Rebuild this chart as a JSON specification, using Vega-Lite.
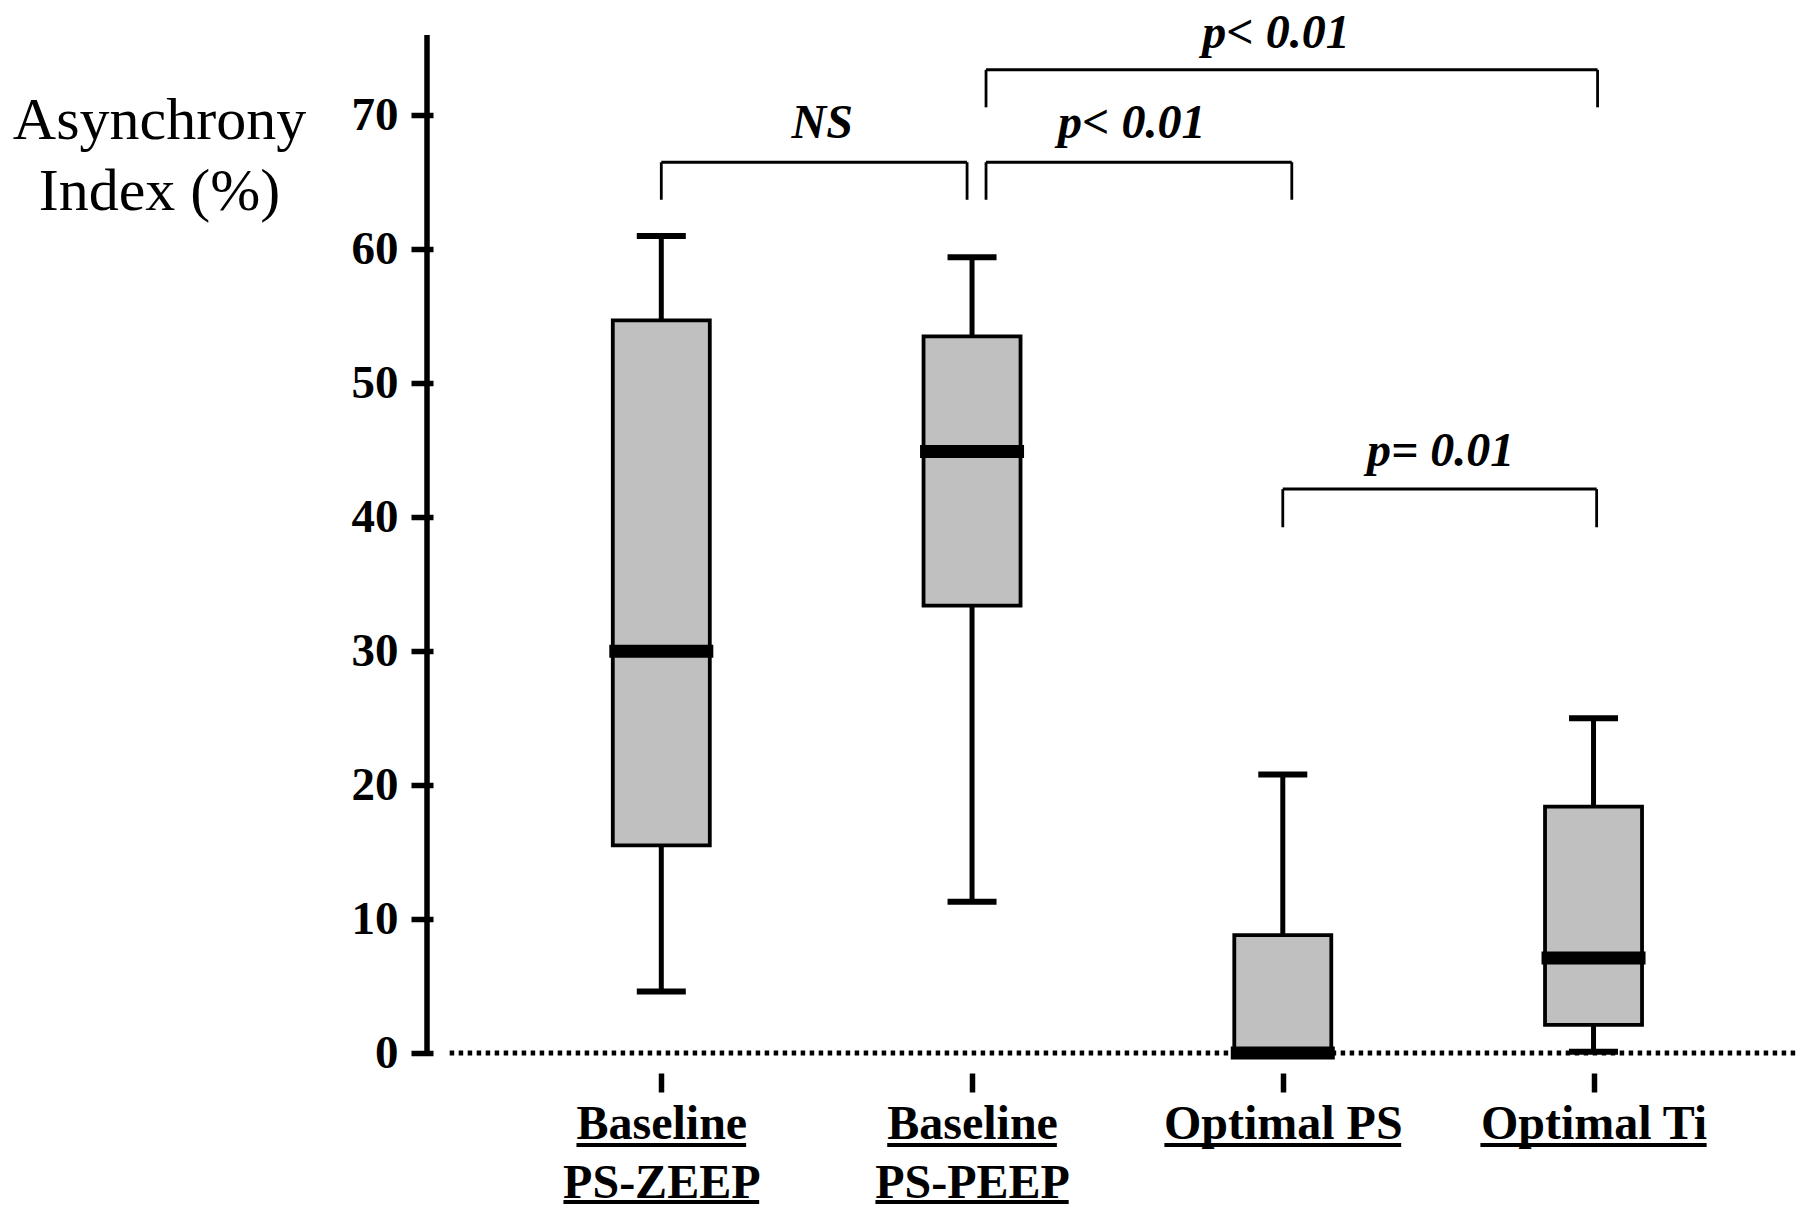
{
  "$schema": "https://vega.github.io/schema/vega-lite/v6.json",
  "width": 1381,
  "height": 1018,
  "autosize": {"type": "none"},
  "padding": {"left": 422, "top": 35, "right": 0, "bottom": 154},
  "background": "white",
  "config": {
    "view": {"stroke": null},
    "font": "Liberation Serif",
    "axis": {"labelColor": "black", "tickColor": "black", "titleColor": "black", "grid": false}
  },
  "datasets": {
    "boxes": [
      {"group": "Baseline PS-ZEEP", "pos": 1, "lower": 4.6, "q1": 15.5, "median": 30.0, "q3": 54.7, "upper": 61.0},
      {"group": "Baseline PS-PEEP", "pos": 2, "lower": 11.3, "q1": 33.4, "median": 44.9, "q3": 53.5, "upper": 59.4},
      {"group": "Optimal PS", "pos": 3, "lower": 0, "q1": 0, "median": 0, "q3": 8.8, "upper": 20.8},
      {"group": "Optimal Ti", "pos": 4, "lower": 0.1, "q1": 2.1, "median": 7.1, "q3": 18.4, "upper": 25.0}
    ],
    "brackets": [
      {"label": "NS", "x1": 1.0, "x2": 1.984, "ytop": 66.5, "ybot": 63.7, "tx": 1.518, "ty": 68.3},
      {"label": "p< 0.01", "x1": 2.045, "x2": 3.029, "ytop": 66.5, "ybot": 63.7, "tx": 2.514, "ty": 68.3},
      {"label": "p< 0.01", "x1": 2.045, "x2": 4.013, "ytop": 73.4, "ybot": 70.6, "tx": 2.978, "ty": 75.0},
      {"label": "p= 0.01", "x1": 3.0, "x2": 4.01, "ytop": 42.1, "ybot": 39.25, "tx": 3.508, "ty": 43.8}
    ],
    "underlines": [
      {"text": "Baseline", "x1": 0.727, "x2": 1.273, "y": -6.87},
      {"text": "PS-ZEEP", "x1": 0.685, "x2": 1.315, "y": -11.12},
      {"text": "Baseline", "x1": 1.727, "x2": 2.273, "y": -6.87},
      {"text": "PS-PEEP", "x1": 1.689, "x2": 2.311, "y": -11.12},
      {"text": "Optimal PS", "x1": 2.619, "x2": 3.381, "y": -6.87},
      {"text": "Optimal Ti", "x1": 3.636, "x2": 4.364, "y": -6.87}
    ],
    "single": [{}]
  },
  "layer": [
    {
      "data": {"name": "boxes"},
      "mark": {"type": "rule", "strokeWidth": 5, "color": "black"},
      "encoding": {
        "x": {
          "field": "pos", "type": "quantitative",
          "scale": {"domain": [0.246, 4.658], "nice": false, "zero": false},
          "axis": {
            "values": [1, 2, 3, 4],
            "labelExpr": "datum.value == 1 ? ['Baseline', 'PS-ZEEP'] : datum.value == 2 ? ['Baseline', 'PS-PEEP'] : datum.value == 3 ? 'Optimal PS' : 'Optimal Ti'",
            "orient": "bottom", "offset": 20, "domain": false,
            "tickSize": 19, "tickWidth": 5.5,
            "labelFont": "Liberation Serif", "labelFontWeight": "bold", "labelFontSize": 48,
            "labelPadding": 8, "labelLineHeight": 59, "labelBaseline": "top", "labelAlign": "center",
            "labelOverlap": false, "labelFlush": false, "labelLimit": 600,
            "title": null
          }
        },
        "y": {
          "field": "lower", "type": "quantitative",
          "scale": {"domain": [0, 76], "nice": false, "zero": false},
          "axis": {
            "values": [0, 10, 20, 30, 40, 50, 60, 70],
            "orient": "left", "offset": -11, "domain": false,
            "tickSize": 22, "tickWidth": 5.5,
            "labelFont": "Liberation Serif", "labelFontWeight": "bold", "labelFontSize": 47,
            "labelPadding": 13, "labelOverlap": false, "labelFlush": false,
            "title": ["Asynchrony", "Index (%)"],
            "titleFont": "Liberation Serif", "titleFontWeight": "normal", "titleFontSize": 60,
            "titleAngle": 0, "titleAlign": "center", "titleBaseline": "alphabetic",
            "titleX": -274, "titleY": 103, "titleLineHeight": 71
          }
        },
        "y2": {"field": "upper"}
      }
    },
    {
      "data": {"name": "single"},
      "mark": {"type": "rule", "strokeWidth": 5.5, "color": "black"},
      "encoding": {
        "x": {"datum": 0.246, "type": "quantitative"},
        "y": {"datum": 0, "type": "quantitative"},
        "y2": {"datum": 76}
      }
    },
    {
      "data": {"name": "single"},
      "mark": {"type": "rule", "strokeWidth": 5, "color": "black", "strokeDash": [4.5, 4.5]},
      "encoding": {
        "x": {"datum": 0.319, "type": "quantitative"},
        "x2": {"datum": 4.658},
        "y": {"datum": 0, "type": "quantitative"}
      }
    },
    {
      "data": {"name": "boxes"},
      "mark": {"type": "tick", "orient": "horizontal", "size": 49, "thickness": 6, "color": "black", "opacity": 1},
      "encoding": {
        "x": {"field": "pos", "type": "quantitative"},
        "y": {"field": "upper", "type": "quantitative"}
      }
    },
    {
      "data": {"name": "boxes"},
      "mark": {"type": "tick", "orient": "horizontal", "size": 49, "thickness": 6, "color": "black", "opacity": 1},
      "encoding": {
        "x": {"field": "pos", "type": "quantitative"},
        "y": {"field": "lower", "type": "quantitative"}
      }
    },
    {
      "data": {"name": "boxes"},
      "mark": {"type": "bar", "width": 97, "fill": "#c0c0c0", "stroke": "black", "strokeWidth": 3.8, "opacity": 1},
      "encoding": {
        "x": {"field": "pos", "type": "quantitative"},
        "y": {"field": "q1", "type": "quantitative"},
        "y2": {"field": "q3"}
      }
    },
    {
      "data": {"name": "boxes"},
      "mark": {"type": "tick", "orient": "horizontal", "size": 104, "thickness": 13, "color": "black", "opacity": 1},
      "encoding": {
        "x": {"field": "pos", "type": "quantitative"},
        "y": {"field": "median", "type": "quantitative"}
      }
    },
    {
      "data": {"name": "brackets"},
      "mark": {"type": "rule", "strokeWidth": 3, "color": "black"},
      "encoding": {
        "x": {"field": "x1", "type": "quantitative"},
        "x2": {"field": "x2"},
        "y": {"field": "ytop", "type": "quantitative"}
      }
    },
    {
      "data": {"name": "brackets"},
      "mark": {"type": "rule", "strokeWidth": 2.8, "color": "black"},
      "encoding": {
        "x": {"field": "x1", "type": "quantitative"},
        "y": {"field": "ytop", "type": "quantitative"},
        "y2": {"field": "ybot"}
      }
    },
    {
      "data": {"name": "brackets"},
      "mark": {"type": "rule", "strokeWidth": 2.8, "color": "black"},
      "encoding": {
        "x": {"field": "x2", "type": "quantitative"},
        "y": {"field": "ytop", "type": "quantitative"},
        "y2": {"field": "ybot"}
      }
    },
    {
      "data": {"name": "brackets"},
      "mark": {"type": "text", "font": "Liberation Serif", "fontWeight": "bold", "fontStyle": "italic", "fontSize": 48, "align": "center", "baseline": "alphabetic", "color": "black"},
      "encoding": {
        "x": {"field": "tx", "type": "quantitative"},
        "y": {"field": "ty", "type": "quantitative"},
        "text": {"field": "label"}
      }
    },
    {
      "data": {"name": "underlines"},
      "mark": {"type": "rule", "strokeWidth": 4, "color": "black"},
      "encoding": {
        "x": {"field": "x1", "type": "quantitative"},
        "x2": {"field": "x2"},
        "y": {"field": "y", "type": "quantitative"}
      }
    }
  ]
}
